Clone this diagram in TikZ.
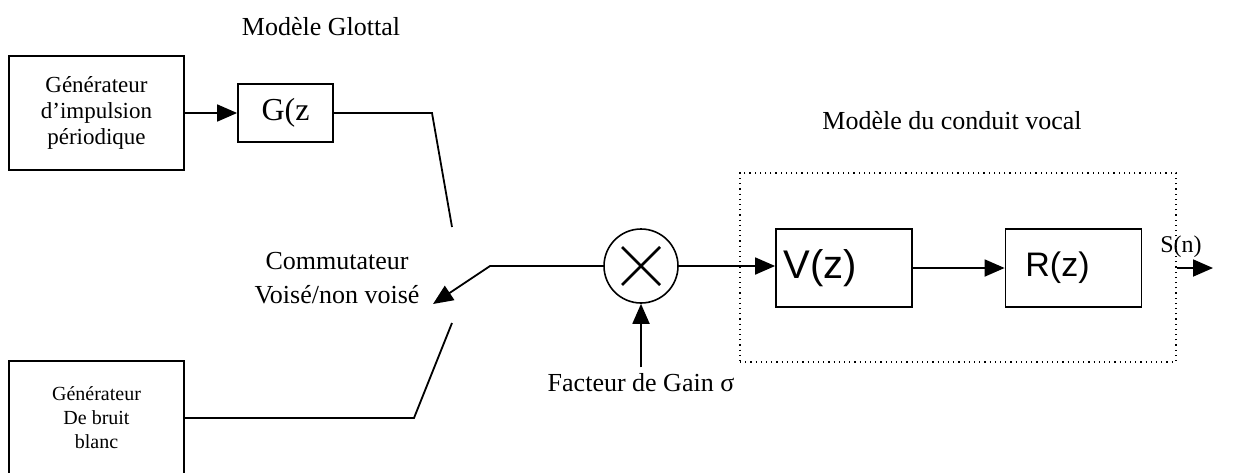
\documentclass[tikz,border=0pt]{standalone}
\usepackage{fontspec}
\setmainfont{Liberation Serif}
\newfontfamily\arial{Liberation Sans}
\usetikzlibrary{arrows.meta,
	calc,
	positioning}
\tikzstyle{bloc}=[draw, line width=0.9pt, inner sep=0, align=center]
\tikzstyle{gen}=[bloc, minimum width=87.5pt, minimum height=57pt]
\tikzstyle{filtre}=[bloc, minimum width=68pt, minimum height=39pt]
\tikzstyle{fil}=[line width=0.9pt]
\tikzstyle{fleche}=[fil, -{Triangle[length=10pt, width=8.5pt]}]
\tikzstyle{titre}=[inner sep=1pt, font=\fontsize{13}{15}\selectfont]

\begin{document}
\begin{tikzpicture}[x=0.5pt, y=-0.5pt]
            \clip (0,0) rectangle (1236,472);
            \fill[white] (0,0) rectangle (1236,472);
            % sources
            \node[gen, font=\fontsize{11.5}{13}\selectfont] (impulsion) at (96.5,113) {Générateur\\d'impulsion\\périodique};
            \node[gen, font=\fontsize{10}{12}\selectfont] (bruit) at (96.5,418) {Générateur\\De bruit\\blanc};
            \node[bloc, minimum width=47.5pt, minimum height=29pt, font=\fontsize{16}{18}\selectfont] (glottal) at (285.5,113) {G(z};
            \node[titre] (tglottal) at (321,27) {Modèle Glottal};
            % commutateur
            \coordinate (hautA) at (432,113);
            \coordinate (hautB) at (452,227);
            \coordinate (basA) at (414,418);
            \coordinate (basB) at (452,323);
            \coordinate (bras) at (490,266);
            \coordinate (pointe) at (433,304);
            \node[titre, align=center, font=\fontsize{13}{17}\selectfont] (commut) at (337,278) {Commutateur\\Voisé/non voisé};
            % gain
            \node[draw, circle, line width=0.8pt, minimum size=37pt, inner sep=0] (mult) at (641,266) {};
            \draw[line width=1.3pt] ($(mult.center)+(-19,-19)$) -- ($(mult.center)+(19,19)$)
                ($(mult.center)+(-19,19)$) -- ($(mult.center)+(19,-19)$);
            \node[titre] (gain) at (641,383) {Facteur de Gain σ};
            % conduit vocal
            \node[draw, dotted, line width=0.6pt, minimum width=218pt, minimum height=94.5pt] (vocal) at (958,267.5) {};
            \node[titre] (tvocal) at (952,121) {Modèle du conduit vocal};
            \node[filtre, font=\arial\fontsize{20}{22}\selectfont] (conduit) at (844,268) {V(z)\hspace*{24pt}};
            \node[filtre, font=\arial\fontsize{17}{20}\selectfont] (rayon) at (1073.5,268) {R(z)\hspace*{16pt}};
            \coordinate (sortie) at (1213,268);
            \node[inner sep=0, font=\fontsize{12}{14}\selectfont] (sn) at (1181,247) {S(n)};
            % liaisons
            \draw[fleche] (impulsion.east) -- (impulsion.east -| glottal.west);
            \draw[fil] (glottal.east) -- (hautA) -- (hautB);
            \draw[fil] (bruit.east) -- (basA) -- (basB);
            \draw[fleche] (mult.west) -- (bras) -- (pointe);
            \draw[fleche] (gain.north) ++(0,-4) -- (mult.south);
            \draw[fleche] (mult.east) -- (conduit.west |- mult.east);
            \draw[fleche] (conduit.east) -- (rayon.west);
            \draw[fleche] (vocal.east |- rayon.east) -- (sortie);
        \end{tikzpicture}
\end{document}
